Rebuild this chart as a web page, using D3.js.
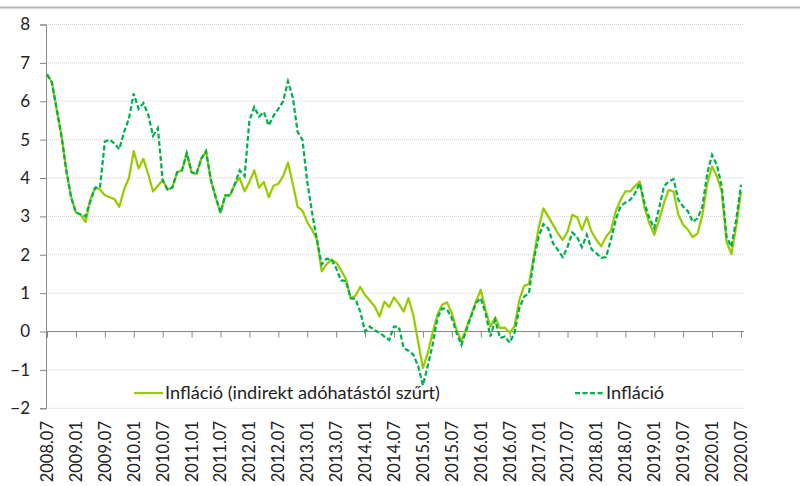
<!DOCTYPE html>
<meta charset="utf-8">
<style>
body { margin: 0; background: #fff; }
svg { display: block; font-family: Lato, "Open Sans", sans-serif; }
.grid line { stroke: #cfcfcf; stroke-width: 1px; stroke-dasharray: 1,1; }
.line-filtered { fill: none; stroke: #99cc00; stroke-width: 2.25px; stroke-linejoin: round; }
.line-cpi { fill: none; stroke: #00b050; stroke-width: 2.25px; stroke-dasharray: 5,2.5; }
</style>
<body>
<script src="https://d3js.org/d3.v7.min.js"></script>
<script>
// chart values (monthly, 2008.07 - 2020.07)
var startYear = 2008, startMonth = 7, monthCount = 145;

var tickLabels = ["2008.07", "2009.01", "2009.07", "2010.01", "2010.07", "2011.01", "2011.07",
  "2012.01", "2012.07", "2013.01", "2013.07", "2014.01", "2014.07", "2015.01", "2015.07",
  "2016.01", "2016.07", "2017.01", "2017.07", "2018.01", "2018.07", "2019.01", "2019.07",
  "2020.01", "2020.07"];

var yTicks = [-2, -1, 0, 1, 2, 3, 4, 5, 6, 7, 8];

// Infláció (indirekt adóhatástól szűrt)
var filtered = [
  6.7, 6.5, 5.8, 5.1, 4.2, 3.5, 3.1, 3.05, 2.85, 3.45, 3.75, 3.7,
  3.55, 3.5, 3.45, 3.25, 3.7, 4.0, 4.7, 4.25, 4.5, 4.1, 3.65, 3.8,
  3.95, 3.7, 3.75, 4.15, 4.2, 4.65, 4.15, 4.1, 4.5, 4.7, 3.95, 3.5,
  3.1, 3.55, 3.55, 3.85, 4.0, 3.65, 3.9, 4.2, 3.75, 3.9, 3.5, 3.8,
  3.85, 4.05, 4.4, 3.85, 3.25, 3.15, 2.85, 2.65, 2.4, 1.57, 1.75, 1.88,
  1.8, 1.6, 1.38, 0.87, 0.93, 1.16, 0.95, 0.8, 0.65, 0.39, 0.78, 0.64,
  0.89, 0.72, 0.52, 0.87, 0.43, -0.26, -0.95, -0.56, -0.04, 0.43, 0.7, 0.76,
  0.48, 0.04, -0.26, 0.09, 0.43, 0.78, 1.09, 0.56, 0.13, 0.37, 0.09, 0.1,
  -0.03, 0.13, 0.82, 1.19, 1.24, 1.95, 2.69, 3.21, 3.0, 2.78, 2.56, 2.39,
  2.6, 3.04, 2.98, 2.65, 2.98, 2.6, 2.39, 2.22, 2.47, 2.63, 3.13, 3.43,
  3.65, 3.65, 3.79, 3.91, 3.21, 2.82, 2.52, 2.91, 3.34, 3.69, 3.65, 3.04,
  2.78, 2.65, 2.46, 2.56, 3.04, 3.86, 4.3, 4.04, 3.65, 2.34, 2.02, 2.73,
  3.65
];

// Infláció
var headline = [
  6.7, 6.5, 5.8, 5.1, 4.2, 3.5, 3.1, 3.05, 3.0, 3.4, 3.75, 3.75,
  4.95, 5.0, 4.9, 4.75, 5.2, 5.55, 6.2, 5.8, 5.95, 5.65, 5.1, 5.3,
  3.95, 3.7, 3.75, 4.15, 4.2, 4.65, 4.15, 4.1, 4.5, 4.7, 3.95, 3.5,
  3.1, 3.55, 3.55, 3.85, 4.2, 4.05, 5.5, 5.85, 5.6, 5.72, 5.37, 5.62,
  5.8, 6.0, 6.52, 6.1, 5.2, 5.0, 3.9, 3.1, 2.4, 1.75, 1.9, 1.88,
  1.65, 1.33, 1.32, 0.87, 0.85, 0.52, 0.0, 0.13, 0.03, -0.03, -0.13, -0.22,
  0.13, 0.13, -0.43, -0.5, -0.6, -0.9, -1.4, -0.9, -0.35, 0.35, 0.6, 0.58,
  0.35, -0.04, -0.35, 0.04, 0.39, 0.74, 0.87, 0.48, -0.13, 0.3, -0.17, -0.13,
  -0.29, -0.04, 0.61, 0.91, 1.0, 1.87, 2.47, 2.8, 2.69, 2.3, 2.13, 1.94,
  2.2, 2.58, 2.46, 2.2, 2.52, 2.14, 2.04, 1.92, 1.94, 2.39, 2.91, 3.26,
  3.36, 3.43, 3.6, 3.86, 3.34, 2.95, 2.69, 3.21, 3.78, 3.91, 3.97, 3.43,
  3.26, 3.13, 2.86, 2.95, 3.26, 4.12, 4.6, 4.34, 3.78, 2.47, 2.21, 2.91,
  3.82
];

// month labels like 2008.07
var months = [];
for (var i = 0; i < monthCount; i++) {
  var mm = startMonth - 1 + i;
  var yy = startYear + Math.floor(mm / 12);
  months.push(yy + "." + String(mm % 12 + 1).padStart(2, "0"));
}

var W = 800, H = 486;
var plotLeft = 46, plotRight = 744, plotTop = 24.5, plotBottom = 408.3;

var svg = d3.select("body").append("svg")
  .attr("width", W)
  .attr("height", H);

// top rule
svg.append("line")
  .attr("x1", 0).attr("x2", W)
  .attr("y1", 7.5).attr("y2", 7.5)
  .attr("stroke", "#b5b5b5")
  .attr("stroke-width", 2);

var x = d3.scalePoint().domain(months).range([47, 741]);
var y = d3.scaleLinear().domain([-2, 8]).range([plotBottom, plotTop]);

// gridlines
svg.append("g")
  .attr("class", "grid")
  .selectAll("line")
  .data(yTicks)
  .enter().append("line")
  .attr("x1", plotLeft).attr("x2", plotRight)
  .attr("y1", function(d) { return y(d); })
  .attr("y2", function(d) { return y(d); });

// y axis
var yAxis = svg.append("g")
  .attr("transform", "translate(" + plotLeft + ",0)")
  .call(d3.axisLeft(y).tickValues(yTicks).tickSize(6).tickPadding(10).tickFormat(d3.format("d")));
yAxis.select(".domain").attr("stroke", "#868686").attr("stroke-width", 1);
yAxis.selectAll(".tick line").attr("stroke", "#868686");
yAxis.selectAll("text").attr("font-size", 17).attr("fill", "#222")
  .attr("font-family", "Lato, sans-serif");

// x axis along zero line
var xAxis = svg.append("g")
  .attr("transform", "translate(0," + y(0) + ")")
  .call(d3.axisBottom(x).tickValues(tickLabels).tickSize(6).tickFormat(""));
xAxis.select(".domain").attr("d", "M" + plotLeft + ",0H" + plotRight).attr("stroke", "#868686");
xAxis.selectAll(".tick line").attr("stroke", "#868686");

// x labels below the plot
svg.append("g")
  .selectAll("text")
  .data(tickLabels)
  .enter().append("text")
  .attr("transform", function(d) { return "translate(" + x(d) + "," + 421 + ") rotate(-90)"; })
  .attr("text-anchor", "end")
  .attr("dy", "0.36em")
  .attr("font-size", 16.5)
  .attr("fill", "#222")
  .text(function(d) { return d; });

// lines
var valueline = d3.line()
  .x(function(d, i) { return x(months[i]); })
  .y(function(d) { return y(d); });

svg.append("path")
  .datum(filtered)
  .attr("class", "line-filtered")
  .attr("d", valueline);

svg.append("path")
  .datum(headline)
  .attr("class", "line-cpi")
  .attr("d", valueline);

// legend
var legend = [
  { name: "Infláció (indirekt adóhatástól szűrt)", cls: "line-filtered", x: 134 },
  { name: "Infláció", cls: "line-cpi", x: 575 }
];
var lg = svg.append("g").selectAll("g")
  .data(legend)
  .enter().append("g")
  .attr("transform", function(d) { return "translate(" + d.x + ",393)"; });
lg.append("line")
  .attr("class", function(d) { return d.cls; })
  .attr("x1", 0).attr("x2", 29);
lg.append("text")
  .attr("x", 31)
  .attr("dy", "0.35em")
  .attr("font-size", 18.2)
  .attr("fill", "#222")
  .text(function(d) { return d.name; });
</script>
</body>
